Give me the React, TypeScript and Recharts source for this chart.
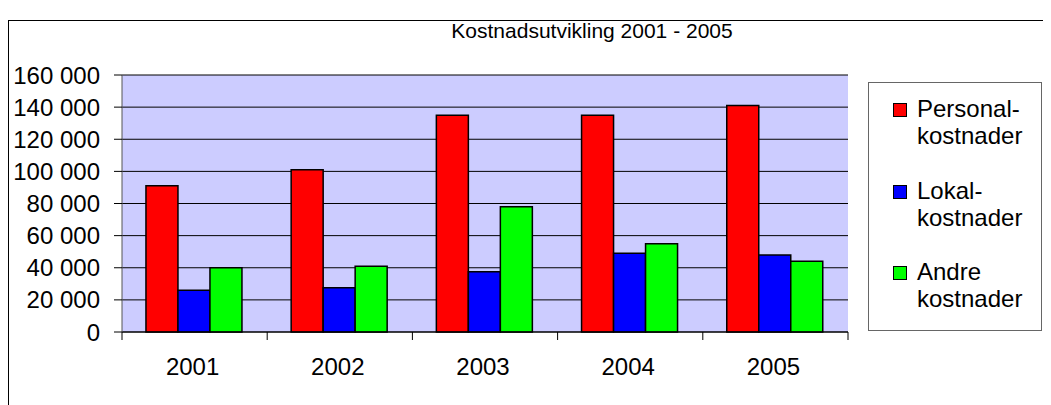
import React from 'react';
import { BarChart, Bar, XAxis, YAxis, CartesianGrid } from 'recharts';

const years = ['2001', '2002', '2003', '2004', '2005'];
const personal = [91000, 101000, 135000, 135000, 141000];
const lokal = [26000, 27500, 37500, 49000, 48000];
const andre = [40000, 41000, 78000, 55000, 44000];
const yTicks = [0, 20000, 40000, 60000, 80000, 100000, 120000, 140000, 160000];
const title = 'Kostnadsutvikling 2001 - 2005';
const seriesNames = [
  ['Personal-', 'kostnader'],
  ['Lokal-', 'kostnader'],
  ['Andre', 'kostnader'],
];
const seriesKeys = ['personal', 'lokal', 'andre'];
const seriesColors = ['#FF0000', '#0000FF', '#00FF00'];

const data = years.map((y, i) => ({
  year: y,
  personal: personal[i],
  lokal: lokal[i],
  andre: andre[i],
}));

const FONT = '"Liberation Sans", Arial, sans-serif';
const W = 1043;
const H = 397;
const MARGIN = { top: 67, right: 203, left: 0, bottom: 33 };
const Y_W = 114;
const PLOT_W = W - MARGIN.left - MARGIN.right - Y_W;
const BAND = PLOT_W / years.length;

const fmt = (v: number) => String(v).replace(/\B(?=(\d{3})+(?!\d))/g, ' ');

const XTick = (props: any) => {
  const { x, y, payload, index } = props;
  const half = BAND / 2;
  return (
    <g>
      <line x1={x - half} x2={x - half} y1={y} y2={y + 8} stroke="#000" />
      {index === years.length - 1 && (
        <line x1={x + half} x2={x + half} y1={y} y2={y + 8} stroke="#000" />
      )}
      <text x={x - 2} y={y + 43} textAnchor="middle" fontSize={24} fill="#000" fontFamily={FONT}>
        {payload.value}
      </text>
    </g>
  );
};

export default function App() {
  return (
    <div style={{ position: 'relative', width: W, height: H, fontFamily: FONT, overflow: 'hidden' }}>
      <div
        style={{
          position: 'absolute',
          left: 0,
          top: 12,
          width: W,
          height: H,
          borderLeft: '1px solid #000',
          borderTop: '1px solid #000',
          boxSizing: 'border-box',
        }}
      />
      <div
        style={{
          position: 'absolute',
          left: 584,
          top: 11,
          transform: 'translateX(-50%)',
          fontSize: 21,
          lineHeight: '24px',
          whiteSpace: 'nowrap',
          color: '#000',
        }}
      >
        {title}
      </div>
      <div style={{ position: 'absolute', left: 0, top: 0 }}>
        <BarChart
          width={W}
          height={H}
          data={data}
          margin={MARGIN}
          barCategoryGap="16.5%"
          barGap={0}
        >
          <CartesianGrid
            yAxisId="l"
            vertical={false}
            fill="#CCCCFF"
            fillOpacity={1}
            stroke="#000"
            horizontalValues={yTicks}
          />
          <XAxis
            dataKey="year"
            tick={<XTick />}
            tickLine={false}
            tickSize={0}
            tickMargin={0}
            height={40}
            axisLine={{ stroke: '#000' }}
            interval={0}
          />
          <YAxis
            yAxisId="l"
            width={Y_W}
            domain={[0, 160000]}
            ticks={yTicks}
            tickFormatter={fmt}
            tickSize={8}
            tickMargin={14}
            tick={{ fontSize: 24, fill: '#000', fontFamily: FONT }}
            tickLine={{ stroke: '#000' }}
            axisLine={{ stroke: '#555' }}
            interval={0}
          />
          <YAxis
            yAxisId="r"
            orientation="right"
            width={0}
            domain={[0, 160000]}
            tick={false}
            tickLine={false}
            axisLine={{ stroke: '#808080' }}
          />
          {seriesKeys.map((k, i) => (
            <Bar
              key={k}
              yAxisId="l"
              dataKey={k}
              fill={seriesColors[i]}
              stroke="#000"
              strokeWidth={1.5}
              isAnimationActive={false}
            />
          ))}
        </BarChart>
      </div>
      <div
        style={{
          position: 'absolute',
          left: 860,
          top: 74,
          width: 174,
          height: 249,
          background: '#fff',
          border: '1px solid #666',
          boxSizing: 'border-box',
        }}
      >
        {seriesNames.map((lines, i) => (
          <div key={i} style={{ position: 'absolute', left: 0, top: 12 + i * 81.5 }}>
            <div
              style={{
                position: 'absolute',
                left: 24,
                top: 8,
                width: 12,
                height: 12,
                background: seriesColors[i],
                border: '1px solid #000',
              }}
            />
            <div
              style={{
                position: 'absolute',
                left: 48,
                top: 0,
                fontSize: 24,
                lineHeight: '27px',
                whiteSpace: 'nowrap',
                color: '#000',
              }}
            >
              {lines.map((l, j) => (
                <div key={j}>{l}</div>
              ))}
            </div>
          </div>
        ))}
      </div>
    </div>
  );
}
